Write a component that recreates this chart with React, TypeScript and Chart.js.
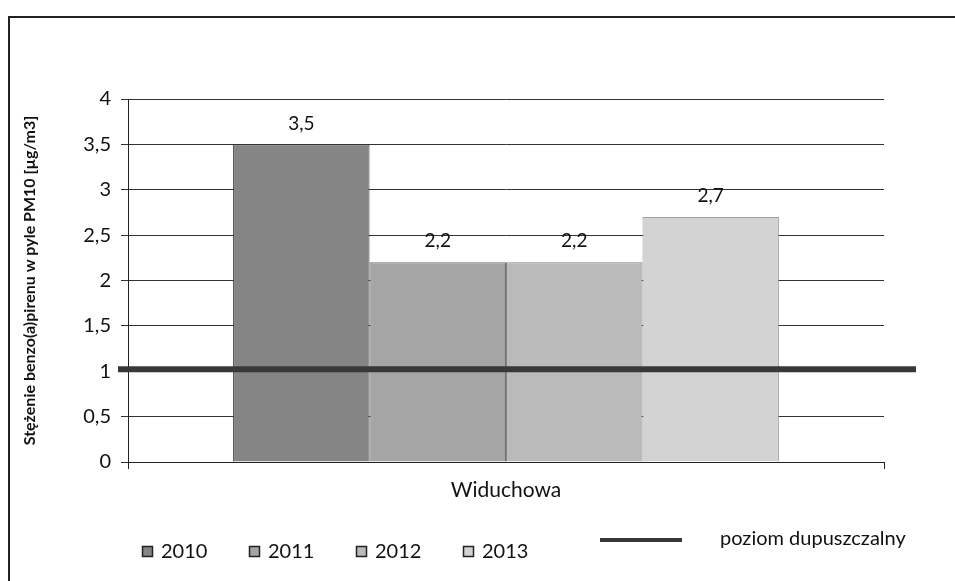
import React, { useEffect, useRef } from "react";
import { Chart, registerables } from "chart.js";

Chart.register(...registerables);

const categories = ["Widuchowa"];
const seriesNames = ["2010", "2011", "2012", "2013"];
const seriesValues = [[3.5], [2.2], [2.2], [2.7]];
const seriesColors = ["#858585", "#a5a5a5", "#bababa", "#d3d3d3"];
const seriesBorders = ["#3e3e3e", "#707070", "#868686", "#a0a0a0"];
const limitValue = 1;
const limitLabel = "poziom dupuszczalny";
const yTitle = "Stężenie benzo(a)pirenu w pyle PM10 [µg/m3]";
const yMin = 0;
const yMax = 4;
const yStep = 0.5;

const FONT = "Lato, 'Open Sans', sans-serif";

const fmt = (v: number) => String(v).replace(".", ",");

const limitPlugin = {
  id: "limitLine",
  afterDatasetsDraw(chart: any) {
    const { ctx, chartArea, scales } = chart;
    const y = scales.y.getPixelForValue(limitValue) - 2;
    ctx.save();
    ctx.strokeStyle = "#383838";
    ctx.lineWidth = 6;
    ctx.beginPath();
    ctx.moveTo(chartArea.left - 10, y);
    ctx.lineTo(chartArea.right + 32, y);
    ctx.stroke();
    ctx.restore();
  },
};

const valueLabelPlugin = {
  id: "valueLabels",
  afterDatasetsDraw(chart: any) {
    const { ctx } = chart;
    ctx.save();
    ctx.font = `19px ${FONT}`;
    ctx.fillStyle = "#111";
    ctx.textAlign = "center";
    ctx.textBaseline = "middle";
    chart.data.datasets.forEach((ds: any, i: number) => {
      const meta = chart.getDatasetMeta(i);
      meta.data.forEach((el: any, j: number) => {
        ctx.fillText(fmt(ds.data[j]), el.x, el.y - 21);
      });
    });
    ctx.restore();
  },
};

const legendPlugin = {
  id: "customLegend",
  afterDraw(chart: any) {
    const { ctx } = chart;
    ctx.save();
    ctx.font = `20px ${FONT}`;
    ctx.textBaseline = "middle";
    ctx.textAlign = "left";
    const startX = 142;
    const stepX = 107;
    const yC = 551;
    seriesNames.forEach((name, i) => {
      const x = startX + stepX * i;
      ctx.fillStyle = seriesColors[i];
      ctx.fillRect(x, yC - 5, 11, 11);
      ctx.strokeStyle = "#222";
      ctx.lineWidth = 1.5;
      ctx.strokeRect(x + 0.5, yC - 4.5, 10, 10);
      ctx.fillStyle = "#111";
      ctx.fillText(name, x + 19, yC + 1);
    });
    ctx.strokeStyle = "#383838";
    ctx.lineWidth = 4;
    ctx.beginPath();
    ctx.moveTo(600, 540);
    ctx.lineTo(682, 540);
    ctx.stroke();
    ctx.fillStyle = "#111";
    ctx.fillText(limitLabel, 720, 539);
    ctx.restore();
  },
};

export default function App() {
  const canvasRef = useRef<HTMLCanvasElement | null>(null);

  useEffect(() => {
    if (!canvasRef.current) return;
    const chart = new Chart(canvasRef.current, {
      type: "bar",
      data: {
        labels: categories,
        datasets: seriesNames.map((name, i) => ({
          label: name,
          data: seriesValues[i],
          backgroundColor: seriesColors[i],
          borderColor: seriesBorders[i],
          borderWidth: 1,
          categoryPercentage: 0.722,
          barPercentage: 1,
        })),
      },
      options: {
        responsive: false,
        animation: false,
        maintainAspectRatio: false,
        layout: { padding: { top: 99, right: 71, left: 0, bottom: 0 } },
        plugins: {
          legend: { display: false },
          tooltip: { enabled: false },
          title: { display: false },
        },
        scales: {
          x: {
            grid: {
              display: true,
              drawOnChartArea: false,
              drawTicks: true,
              tickLength: 7,
              color: "#222",
            },
            border: { color: "#222", width: 1 },
            ticks: {
              color: "#111",
              font: { family: FONT, size: 21 },
              padding: 9,
            },
            afterFit(scale: any) {
              scale.height = 119;
            },
          },
          y: {
            min: yMin,
            max: yMax,
            grid: { color: "#333", lineWidth: 1, tickLength: 7 },
            border: { color: "#222", width: 1 },
            ticks: {
              stepSize: yStep,
              color: "#111",
              font: { family: FONT, size: 20 },
              padding: 10,
              callback: (v: any) => fmt(Number(v)),
            },
            title: {
              display: true,
              text: yTitle,
              color: "#111",
              font: { family: FONT, size: 16, weight: "bold" },
              padding: { top: 20, bottom: 0 },
            },
            afterFit(scale: any) {
              scale.width = 128;
            },
          },
        },
      },
      plugins: [limitPlugin, valueLabelPlugin, legendPlugin],
    } as any);
    return () => chart.destroy();
  }, []);

  return (
    <div style={{ position: "absolute", left: 0, top: 0, width: 955, height: 581, background: "#fff" }}>
      <div
        style={{
          position: "absolute",
          left: 8,
          top: 16,
          width: 955,
          height: 581,
          borderLeft: "2px solid #222",
          borderTop: "2px solid #222",
        }}
      />
      <canvas ref={canvasRef} width={955} height={581} style={{ position: "absolute", left: 0, top: 0 }} />
    </div>
  );
}
